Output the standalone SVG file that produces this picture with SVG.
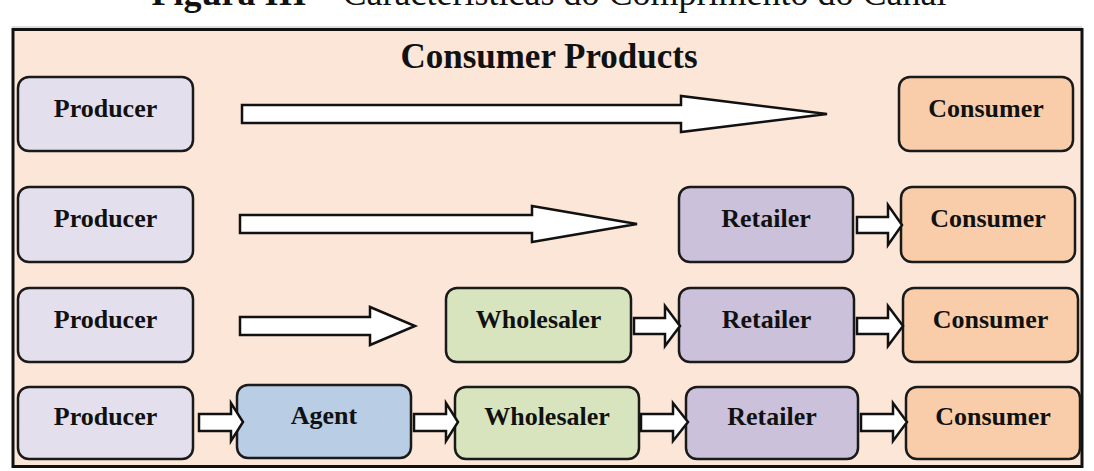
<svg xmlns="http://www.w3.org/2000/svg" width="1094" height="471" viewBox="0 0 1094 471">
<style>
.t{font-family:"Liberation Serif","Times New Roman",serif;font-weight:bold;font-size:26px;fill:#111;text-anchor:middle}
.h{font-size:35px}
.box{stroke:#1a1a1a;stroke-width:2.5}
.prod{fill:#E3DFEC}.agent{fill:#B9CDE5}.whole{fill:#D7E4BD}.ret{fill:#CCC1DA}.cons{fill:#F9CDA9}
.arr{fill:#fff;stroke:#111;stroke-width:2.5;stroke-linejoin:miter}
</style>
<rect width="1094" height="471" fill="#fff"/>
<text x="549" y="5" text-anchor="middle" font-family="Liberation Serif,Times New Roman,serif" font-size="36" fill="#111"><tspan font-weight="bold">Figura III</tspan> – Características do Comprimento do Canal</text>
<line x1="12" y1="27" x2="1082" y2="27" stroke="#bbb" stroke-width="1"/>
<rect id="frame" x="13" y="29.5" width="1069" height="437" fill="#FCE6D8" stroke="#111" stroke-width="3"/>
<text x="549" y="68" class="t h">Consumer Products</text>
<g id="nodes">
<g id="producer1"><rect class="box prod" x="18" y="77" width="175" height="74" rx="11"/><text class="t" x="105.5" y="117">Producer</text></g>
<g id="consumer1"><rect class="box cons" x="899" y="77" width="174" height="74" rx="11"/><text class="t" x="986" y="117">Consumer</text></g>
<g id="producer2"><rect class="box prod" x="18" y="187" width="175" height="75" rx="11"/><text class="t" x="105.5" y="227">Producer</text></g>
<g id="retailer2"><rect class="box ret" x="679" y="187" width="174" height="75" rx="11"/><text class="t" x="766" y="227">Retailer</text></g>
<g id="consumer2"><rect class="box cons" x="901" y="187" width="174" height="75" rx="11"/><text class="t" x="988" y="227">Consumer</text></g>
<g id="producer3"><rect class="box prod" x="18" y="288" width="175" height="74" rx="11"/><text class="t" x="105.5" y="328">Producer</text></g>
<g id="wholesaler3"><rect class="box whole" x="446" y="288" width="185" height="74" rx="11"/><text class="t" x="538.5" y="328">Wholesaler</text></g>
<g id="retailer3"><rect class="box ret" x="679" y="288" width="175" height="74" rx="11"/><text class="t" x="766.5" y="328">Retailer</text></g>
<g id="consumer3"><rect class="box cons" x="903" y="288" width="175" height="74" rx="11"/><text class="t" x="990.5" y="328">Consumer</text></g>
<g id="producer4"><rect class="box prod" x="18" y="387" width="175" height="72" rx="11"/><text class="t" x="105.5" y="425">Producer</text></g>
<g id="agent4"><rect class="box agent" x="237" y="385" width="174" height="73" rx="11"/><text class="t" x="324" y="424">Agent</text></g>
<g id="wholesaler4"><rect class="box whole" x="455" y="387" width="184" height="72" rx="11"/><text class="t" x="547" y="425">Wholesaler</text></g>
<g id="retailer4"><rect class="box ret" x="686" y="387" width="172" height="72" rx="11"/><text class="t" x="772" y="425">Retailer</text></g>
<g id="consumer4"><rect class="box cons" x="906" y="387" width="174" height="72" rx="11"/><text class="t" x="993" y="425">Consumer</text></g>
</g>
<g id="connectors">
<polygon class="arr" points="242,105 681,105 681,96 827,114 681,132 681,123 242,123"/>
<polygon class="arr" points="240,215 532,215 532,206 637,224 532,242 532,233 240,233"/>
<polygon class="arr" points="240,317 370,317 370,307 415,326 370,345 370,335 240,335"/>
<polygon class="arr" points="857,217 888,217 888,205 902,225 888,245 888,233 857,233"/>
<polygon class="arr" points="634,318 665,318 665,306 680,326 665,346 665,334 634,334"/>
<polygon class="arr" points="857,318 888,318 888,306 903,326 888,346 888,334 857,334"/>
<polygon class="arr" points="199,414 231,414 231,403 243,422 231,441 231,431 199,431"/>
<polygon class="arr" points="414,414 446,414 446,403 458,422 446,441 446,431 414,431"/>
<polygon class="arr" points="641,414 673,414 673,403 688,422 673,441 673,431 641,431"/>
<polygon class="arr" points="861,414 893,414 893,403 907,422 893,441 893,431 861,431"/>
</g>
</svg>
